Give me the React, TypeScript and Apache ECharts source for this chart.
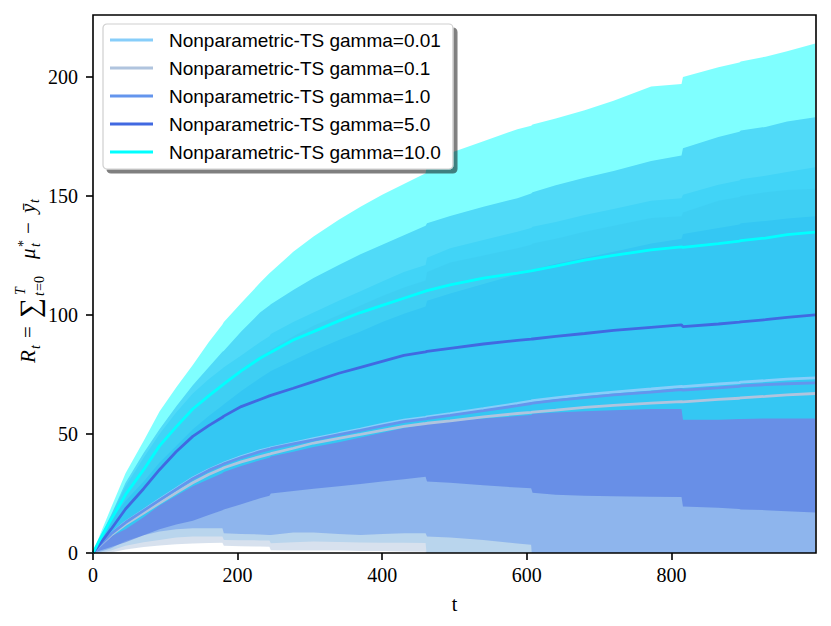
import React, { useEffect, useRef } from "react";
import * as echarts from "echarts";

// time steps (shared by every series; doubled points mark step jumps)
const T = [0, 10, 25, 45, 70, 92, 115, 138, 160, 179, 181, 205, 231, 244, 246, 277, 305, 340, 370, 400, 430, 460, 462, 494, 540, 587, 606, 608, 640, 680, 720, 772, 814, 816, 865, 894, 896, 930, 960, 999];

const X_TICKS = [0, 200, 400, 600, 800];
const Y_TICKS = [0, 50, 100, 150, 200];

const NAMES = [
  "Nonparametric-TS gamma=0.01",
  "Nonparametric-TS gamma=0.1",
  "Nonparametric-TS gamma=1.0",
  "Nonparametric-TS gamma=5.0",
  "Nonparametric-TS gamma=10.0",
];
const COLORS = ["#87CEFA", "#B0C4DE", "#6495ED", "#4169E1", "#00FFFF"];

// gamma = 0.01
const SKY_MEAN = [0, 3.5, 8, 13, 18, 22.5, 27, 31.5, 35, 37.5, 37.8, 40.5, 43, 44, 44.2, 46.2, 48, 50.2, 52, 54, 55.8, 57, 57.2, 58.5, 60.6, 62.8, 63.8, 64, 65.2, 66.5, 67.6, 68.9, 70, 69.9, 71, 71.6, 71.8, 72.4, 73, 73.6];
const SKY_LO = [0, 0, 1, 3, 4.5, 5.5, 6.5, 6.9, 6.9, 6.9, 5.5, 5.4, 5.3, 5.2, 4.1, 4.5, 4.8, 4.6, 4.4, 4.3, 4.3, 4.2, -2, -3, -3.5, -4, -4.5, -8, -9, -10, -11, -12, -12.5, -15, -15, -16, -16, -16, -17, -17];
const SKY_HI = [0, 6.5, 16, 28, 40, 50, 59, 67, 73, 77.5, 78, 83, 88.5, 91, 92, 97, 101, 106, 110, 114, 118, 121, 124, 128, 131.5, 135, 136.5, 137, 139, 142, 144.5, 148, 149, 150.5, 154.7, 156.5, 157, 158.5, 160, 162];

// gamma = 0.1
const STEEL_MEAN = [0, 3.3, 7.5, 12, 16.8, 21, 25.3, 29.5, 33, 35.5, 35.8, 38.3, 40.5, 41.5, 41.7, 44, 46.2, 48.2, 49.8, 51.5, 53.2, 54.4, 54.5, 55.5, 57.2, 58.6, 59.1, 59.2, 60, 61.2, 62, 63, 63.6, 63.5, 64.5, 65, 65.2, 65.8, 66.4, 67];
const STEEL_LO = [0, 0, 0.2, 1.5, 2.5, 3.2, 3.7, 4, 4.2, 4.3, 3, 2.8, 2.7, 2.6, 1.2, 1.1, 1, 1, 0.8, 0.8, 0.6, 0.5, -11, -11, -11, -12, -12, -13, -14, -14, -14, -15, -15, -16, -16, -16, -17, -17, -18, -18];
const STEEL_HI = [0, 6, 14.5, 25, 36, 45, 53, 60.5, 66, 71, 71.3, 77, 82.5, 85, 85.5, 91, 95.5, 100, 104, 108, 111.5, 114.5, 118, 122, 125, 128, 129.5, 130, 132, 135, 137.5, 140.7, 141.5, 143, 148, 149.5, 150, 151.5, 152.5, 153];

// gamma = 1.0
const CORN_MEAN = [0, 3.5, 8, 12.8, 17.8, 22.2, 26.7, 31.2, 34.7, 37.2, 37.5, 40.1, 42.6, 43.6, 43.8, 45.8, 47.5, 49.7, 51.5, 53.4, 55.2, 56.3, 56.5, 57.8, 59.8, 61.9, 62.8, 63, 64.1, 65.3, 66.4, 67.6, 68.6, 68.4, 69.4, 70, 70.2, 70.7, 71.1, 71.5];
const CORN_LO = [0, 0.5, 2, 5, 7.5, 9, 10, 10.4, 10.4, 10.4, 8.3, 8, 7.8, 7.6, 7.6, 8.6, 8.6, 8, 7.6, 8, 8.3, 8.3, 6.9, 6.5, 5.5, 4, 3.5, -5, -6, -7, -8, -9, -10, -12, -12, -13, -13, -14, -14, -15];
const CORN_HI = [0, 6.5, 14, 22, 30, 38, 45, 52, 57.5, 62, 62.5, 68, 73.5, 76, 76.5, 81, 85, 89.5, 93, 97, 100.5, 103.5, 106, 109, 113, 117, 118.5, 119, 121.5, 124, 126.5, 130, 132, 134, 136.5, 138, 138.5, 139.5, 140.5, 141.5];

// gamma = 5.0
const ROYAL_MEAN = [0, 4, 10, 18.5, 27, 35, 42.5, 49, 53.5, 57, 57.5, 61.5, 64.5, 66, 66.2, 69.2, 72, 75.5, 78, 80.5, 83, 84.5, 84.7, 86, 87.8, 89.3, 89.8, 89.9, 91, 92.2, 93.5, 94.8, 95.8, 95.1, 96.2, 97, 97.1, 98, 99, 100];
const ROYAL_LO = [0, 1, 2.5, 4.5, 7.5, 10, 12, 13.5, 16, 18, 18.3, 20.5, 23, 24, 25, 26, 27, 28, 29, 30, 31, 32, 30, 29.5, 28.5, 27.5, 27.2, 25.3, 24.5, 24, 23.8, 23.6, 23.5, 19.5, 19, 18.5, 18.3, 18, 17.5, 17];
const ROYAL_HI = [0, 7, 16, 29.5, 42, 52, 61.5, 70.5, 78, 84.5, 85, 93, 101, 104, 104.5, 110.5, 115.5, 121, 125.5, 129.5, 133.5, 137.5, 138.5, 141.6, 145.5, 149, 151, 151.5, 154.5, 157.6, 160.5, 164.7, 167, 170, 174.8, 177, 177.5, 179, 181.3, 183];

// gamma = 10.0
const CYAN_MEAN = [0, 6, 14, 24.5, 35, 45, 53, 60.5, 66, 70.5, 71, 76.5, 81.8, 84, 84.3, 89.5, 93, 97.5, 101, 104, 107, 110, 110.2, 112.6, 115.5, 117.6, 118.5, 118.6, 120.5, 123, 125, 127.3, 128.6, 128.4, 130, 131, 131.2, 132.3, 133.7, 134.8];
const CYAN_LO = [0, 3, 7, 10, 15, 20, 24, 28, 31, 33.5, 34, 36.5, 39, 40, 40.5, 42.5, 44.5, 46.5, 48.5, 50.5, 52.5, 54, 54.5, 55.5, 56.5, 57.5, 58, 58.5, 59, 59.5, 60, 60.5, 60.5, 56, 56, 56.3, 56.3, 56.5, 56.5, 56.5];
const CYAN_HI = [0, 8, 19, 33.5, 47, 59.4, 69.5, 79, 88.5, 96, 97, 105, 113.5, 117.5, 118, 126.5, 133, 140, 145.5, 150.5, 155, 159.5, 163.5, 168, 173, 178, 179.5, 180, 182.5, 186, 190, 196, 197, 200, 204, 206, 206.5, 208.5, 210.8, 214];

const MEANS = [SKY_MEAN, STEEL_MEAN, CORN_MEAN, ROYAL_MEAN, CYAN_MEAN];
const LOWS = [SKY_LO, STEEL_LO, CORN_LO, ROYAL_LO, CYAN_LO];
const HIGHS = [SKY_HI, STEEL_HI, CORN_HI, ROYAL_HI, CYAN_HI];

const GRID = { left: 93, top: 15, width: 723, height: 538 };

function buildOption() {
  const series: any[] = [];
  NAMES.forEach((name, i) => {
    const lo = LOWS[i];
    const hi = HIGHS[i];
    series.push({
      type: "custom",
      name: "band-" + i,
      data: T.map((t, k) => [t, lo[k], hi[k]]),
      encode: { x: 0, y: [1, 2] },
      clip: true,
      silent: true,
      z: 1,
      renderItem: (params: any, api: any) => {
        if (params.dataIndex !== 0) return null;
        const upper = T.map((t, k) => api.coord([t, hi[k]]));
        const lower = T.map((t, k) => api.coord([t, lo[k]])).reverse();
        return {
          type: "polygon",
          shape: { points: upper.concat(lower) },
          style: { fill: COLORS[i], opacity: 0.5 },
        };
      },
    });
  });
  NAMES.forEach((name, i) => {
    series.push({
      type: "line",
      name,
      color: COLORS[i],
      data: T.map((t, k) => [t, MEANS[i][k]]),
      symbol: "none",
      showSymbol: false,
      lineStyle: { color: COLORS[i], width: 2.8 },
      silent: true,
      z: 2,
    });
  });

  const sub = (text: string, x: number, y: number, size: number, italic: boolean) => ({
    type: "text",
    x,
    y,
    style: {
      text,
      fontSize: size,
      fontFamily: "Liberation Serif",
      fontStyle: italic ? "italic" : "normal",
      fill: "#000",
      align: "left",
      verticalAlign: "middle",
      textAlign: "left",
      textVerticalAlign: "middle",
    },
  });

  return {
    animation: false,
    backgroundColor: "#fff",
    grid: { ...GRID, containLabel: false, outerBoundsMode: "none" },
    legend: {
      data: NAMES,
      orient: "vertical",
      left: 103,
      top: 24,
      icon: "rect",
      itemWidth: 43,
      itemHeight: 3,
      itemGap: 8,
      padding: [6, 12, 7, 7],
      backgroundColor: "#fff",
      borderColor: "#cfcfcf",
      borderWidth: 1.2,
      borderRadius: 4,
      shadowColor: "rgba(0,0,0,0.5)",
      shadowBlur: 0,
      shadowOffsetX: 4,
      shadowOffsetY: 4,
      selectedMode: false,
      textStyle: {
        fontFamily: "Liberation Sans",
        fontSize: 19,
        lineHeight: 20,
        color: "#000",
        padding: [0, 0, 0, 11],
      },
    },
    xAxis: {
      type: "value",
      min: 0,
      max: 1000,
      name: "t",
      nameLocation: "middle",
      nameGap: 51,
      nameTextStyle: { fontFamily: "Liberation Serif", fontSize: 20, color: "#000", verticalAlign: "middle" },
      axisLine: { show: false },
      axisTick: { show: true, length: 7, lineStyle: { color: "#000", width: 1.6 }, customValues: X_TICKS },
      axisLabel: { fontFamily: "Liberation Serif", fontSize: 20, color: "#000", margin: 12, customValues: X_TICKS },
      splitLine: { show: false },
    },
    yAxis: {
      type: "value",
      min: 0,
      max: 226,
      axisLine: { show: false },
      axisTick: { show: true, length: 7, lineStyle: { color: "#000", width: 1.6 }, customValues: Y_TICKS },
      axisLabel: { fontFamily: "Liberation Serif", fontSize: 20, color: "#000", margin: 15, customValues: Y_TICKS },
      splitLine: { show: false },
    },
    graphic: [
      {
        type: "rect",
        shape: { x: GRID.left, y: GRID.top, width: GRID.width, height: GRID.height },
        style: { fill: "none", stroke: "#000", lineWidth: 1.6 },
        z: 100,
        silent: true,
      },
      {
        type: "group",
        x: 28,
        y: 277,
        rotation: Math.PI / 2,
        silent: true,
        children: [
          sub("R", -86, 0, 21, true),
          sub("t", -72, 7, 14, true),
          sub("=", -61, 0, 21, false),
          sub("\u2211", -41, 1, 28, false),
          sub("T", -18, -8, 14, true),
          sub("t", -19, 11, 14, true),
          sub("=0", -14, 11, 14, false),
          sub("\u03bc", 18, 0, 21, true),
          sub("*", 30, -5, 14, false),
          sub("t", 30, 7, 14, true),
          sub("\u2212", 43, 0, 21, false),
          sub("\u0233", 64, 0, 21, true),
          sub("t", 74, 6, 14, true),
        ],
      },
    ],
    series,
  };
}

export default function App() {
  const ref = useRef<HTMLDivElement>(null);
  useEffect(() => {
    if (!ref.current) return;
    const chart = echarts.init(ref.current, null, { renderer: "svg" });
    chart.setOption(buildOption() as any);
    return () => chart.dispose();
  }, []);
  return (
    <div
      ref={ref}
      style={{ position: "absolute", left: 0, top: 0, width: 831, height: 626, background: "#fff" }}
    />
  );
}
